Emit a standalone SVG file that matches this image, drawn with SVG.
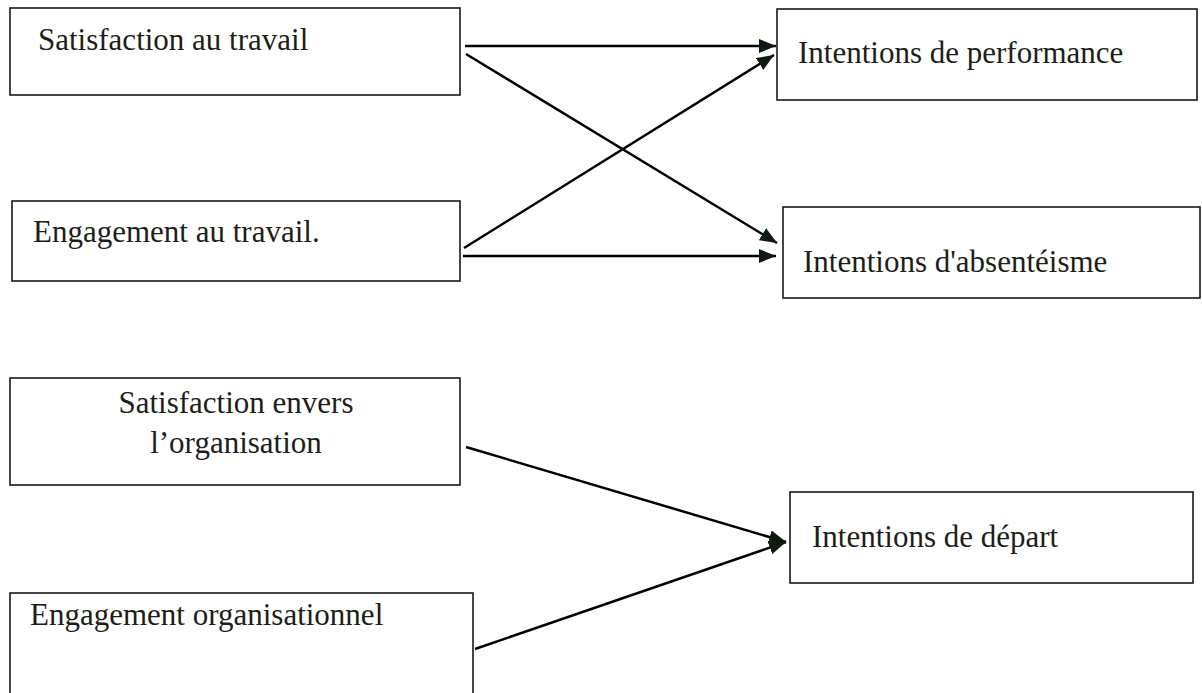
<svg xmlns="http://www.w3.org/2000/svg" width="1202" height="693" viewBox="0 0 1202 693">
  <style>
    .box { fill: #ffffff; stroke: #1a1a1a; stroke-width: 1.6; }
    .lbl { font-family: "Liberation Serif", "Times New Roman", serif; font-size: 31px; fill: #1e1e18; }
    .mid { text-anchor: middle; }
    .conn { stroke: #000000; stroke-width: 2.5; fill: none; marker-end: url(#arrow); }
  </style>
  <defs>
    <marker id="arrow" viewBox="0 0 17 14" refX="17" refY="7" markerWidth="17" markerHeight="14" markerUnits="userSpaceOnUse" orient="auto">
      <path d="M0,0 L17,7 L0,14 Z" fill="#0d1a0d"/>
    </marker>
  </defs>
  <rect width="1202" height="693" fill="#ffffff"/>

  <g id="node-satisfaction-travail">
    <rect class="box" x="10" y="8" width="450" height="87"/>
    <text class="lbl" x="38" y="50">Satisfaction au travail</text>
  </g>
  <g id="node-intentions-performance">
    <rect class="box" x="777" y="9" width="420" height="91"/>
    <text class="lbl" x="798" y="63">Intentions de performance</text>
  </g>
  <g id="node-engagement-travail">
    <rect class="box" x="12" y="201" width="448" height="80"/>
    <text class="lbl" x="33" y="242">Engagement au travail.</text>
  </g>
  <g id="node-intentions-absenteisme">
    <rect class="box" x="783" y="207" width="417" height="91"/>
    <text class="lbl" x="803" y="272">Intentions d'absentéisme</text>
  </g>
  <g id="node-satisfaction-organisation">
    <rect class="box" x="10" y="378" width="450" height="107"/>
    <text class="lbl mid" x="236" y="413">Satisfaction envers</text>
    <text class="lbl mid" x="236" y="453">l’organisation</text>
  </g>
  <g id="node-intentions-depart">
    <rect class="box" x="790" y="492" width="403" height="91"/>
    <text class="lbl" x="812" y="547">Intentions de départ</text>
  </g>
  <g id="node-engagement-organisationnel">
    <rect class="box" x="10" y="593" width="463" height="110"/>
    <text class="lbl" x="30" y="625">Engagement organisationnel</text>
  </g>

  <g id="connectors">
    <line class="conn" x1="465" y1="46" x2="776" y2="46"/>
    <line class="conn" x1="466" y1="54" x2="777" y2="243"/>
    <line class="conn" x1="464" y1="248" x2="774" y2="55"/>
    <line class="conn" x1="463" y1="256" x2="776" y2="256"/>
    <line class="conn" x1="466" y1="447" x2="786" y2="542"/>
    <line class="conn" x1="475" y1="649" x2="786" y2="542"/>
  </g>
</svg>
